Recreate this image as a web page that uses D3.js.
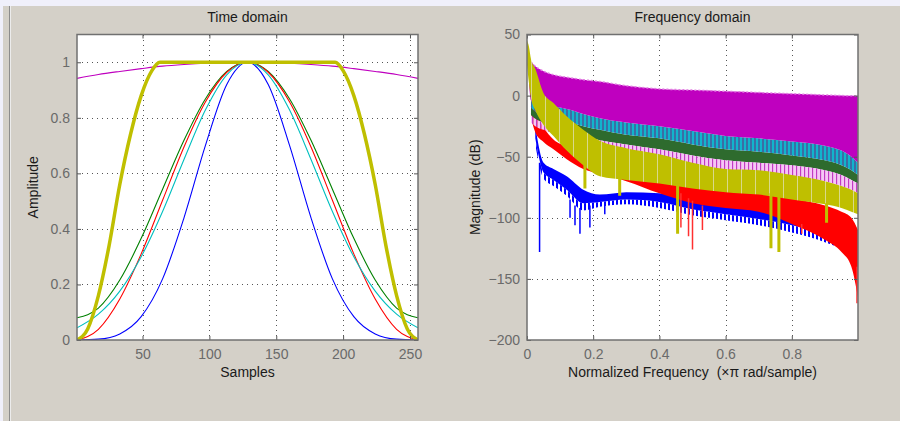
<!DOCTYPE html>
<html>
<head>
<meta charset="utf-8">
<script src="https://cdn.jsdelivr.net/npm/d3@7"></script>
<style>
  html, body { margin: 0; padding: 0; background: #d4d0c8; }
  svg { display: block; }
  text { font-family: "Liberation Sans", Arial, sans-serif; }
</style>
</head>
<body>
<svg id="chart"></svg>
<script>
// ---- time domain (samples 1..256) ----
const timeN = [1, 17, 33, 49, 65, 81, 97, 113, 128.5, 144, 160, 176, 192, 208, 224, 240, 256];
const blueTime = [0.0001, 0.003, 0.022, 0.084, 0.22, 0.44, 0.70, 0.92, 1, 0.92, 0.70, 0.44, 0.22, 0.084, 0.022, 0.003, 0.0001];
const greenTime = [0.08, 0.115, 0.216, 0.366, 0.543, 0.719, 0.868, 0.967, 1, 0.967, 0.868, 0.719, 0.543, 0.366, 0.216, 0.115, 0.08];
const redTime = [0, 0.0385, 0.1475, 0.31, 0.503, 0.695, 0.857, 0.964, 1, 0.964, 0.857, 0.695, 0.503, 0.31, 0.1475, 0.0385, 0];
const cyanTime = [0.044, 0.093, 0.176, 0.30, 0.463, 0.65, 0.828, 0.955, 1, 0.955, 0.828, 0.65, 0.463, 0.30, 0.176, 0.093, 0.044];
const magentaTime = [0.942, 0.956, 0.967, 0.977, 0.986, 0.992, 0.9965, 0.999, 1, 0.999, 0.9965, 0.992, 0.986, 0.977, 0.967, 0.956, 0.942];
const tukeyN = [1, 9, 17, 25, 33, 41, 49, 57, 63, 194, 200, 208, 216, 224, 232, 240, 248, 256];
const yellowTime = [0, 0.04, 0.16, 0.34, 0.56, 0.74, 0.88, 0.97, 1, 1, 0.97, 0.88, 0.74, 0.56, 0.34, 0.16, 0.04, 0];

// ---- frequency domain (dB), envelopes of each response ----
const freqPts =    [0,    0.006, 0.012, 0.025, 0.05, 0.08, 0.12, 0.17, 0.22, 0.3, 0.4, 0.5, 0.6, 0.7, 0.8, 0.9, 0.95, 0.98, 1.0];
const magentaTop = [null, 24,    27,    24,    20,   17,   15,   13,   11.5, 8,   5.5, 4.5, 3.5, 2.5, 1.5, 0.5, 0,    -0.2, -0.3];
const magentaBot = [null, 10,    -4,    -6,    -8,   -9,   -11,  -15,  -18.5, -22, -25, -29, -33, -35, -37.5, -41, -45, -50, -55];
const cyanBot =    [null, null,  -10,   -13,   -16,  -18,  -21,  -25,  -28,  -32, -35, -40, -44, -46, -49, -53, -57,  -61,  -65];
const greenBot =   [null, null,  -16,   -19,   -22,  -25,  -29,  -33,  -36.5, -40, -44, -49, -53, -55, -57, -61, -65, -69, -72];
const pinkBot =    [null, null,  -22,   -25,   -28,  -31,  -35,  -40,  -47,  -50, -54, -59, -62, -64, -67, -70, -74,  -77,  -80];
const yellowTop =  [45,   40,    30,    22,    2,    -6,   -17,  -28,  -37,  -43, -48, -55, -60, -61, -65, -70, -74,  -77,  -80];
const yellowBot =  [25,   10,    -2,    -12,   -24,  -33,  -45,  -57,  -66,  -69, -72, -76, -79, -81, -85, -89, -92,  -95,  -97];
const redTop =     [null, null,  2,     -12,   -26,  -36,  -42,  -50,  -55,  -60, -64, -70, -74, -77, -84, -90, -95,  -100, -110];
const redBot =     [null, null,  -18,   -30,   -38,  -44,  -52,  -60,  -64,  -70, -80, -88, -92, -95, -105, -118, -128, -140, -165];
const blueTop =    [null, null,  null,  -25,   -55,  -60,  -66,  -77,  -81,  -79, -80, -84, -87, -90, -95, -100, -105, -110, -118];
const blueSolid =  [null, null,  null,  -35,   -63,  -69,  -77,  -88,  -87,  -85, -87, -93, -97, -101, -106, -113, -119, -125, -133];
const blueBot =    [null, null,  null,  -40,   -68,  -74,  -82,  -94,  -91,  -89, -92, -98, -102, -106, -112, -120, -126, -133, -142];

const yellowSpikeF = [0.175, 0.28, 0.455, 0.737, 0.761, 0.905];
const yellowSpikeTop = [-55, -68, -72, -80, -80, -88];
const yellowSpikeBot = [-76, -82, -113, -125, -128, -104];
const redSpikeF = [0.465, 0.488, 0.5, 0.53, 0.83, 0.997];
const redSpikeTop = [-80, -84, -86, -90, -105, -140];
const redSpikeBot = [-108, -115, -126, -110, -113, -170];
const blueSpikeF = [0.038, 0.13, 0.145, 0.16, 0.19, 0.235];
const blueSpikeTop = [-55, -85, -90, -92, -90, -88];
const blueSpikeBot = [-128, -100, -106, -113, -108, -97];

// ---- ticks ----
const timeXTicks = [50, 100, 150, 200, 250];
const timeYTicks = [0, 0.2, 0.4, 0.6, 0.8, 1];
const freqXTicks = [0, 0.2, 0.4, 0.6, 0.8];
const freqYTicks = [-200, -150, -100, -50, 0, 50];

const W = 900, H = 421;
const plotTop = 34.5, plotBottom = 340;

const svg = d3.select('#chart').attr('width', W).attr('height', H);

// window chrome
svg.append('rect').attr('width', W).attr('height', H).attr('fill', '#d4d0c8');
svg.append('rect').attr('width', W).attr('height', 6).attr('fill', '#f0f0fb');
svg.append('rect').attr('y', 6).attr('width', 3).attr('height', H - 6).attr('fill', '#f0f0fb');
svg.append('line').attr('x1', 9.5).attr('x2', 9.5).attr('y1', 6).attr('y2', H).attr('stroke', '#8c8c8c');
svg.append('line').attr('x1', 10.5).attr('x2', 10.5).attr('y1', 6).attr('y2', H).attr('stroke', '#ececec');

const defs = svg.append('defs');
function stripes(id, c1, w1, c2, w2) {
  const p = defs.append('pattern').attr('id', id)
      .attr('patternUnits', 'userSpaceOnUse')
      .attr('width', w1 + w2).attr('height', 10);
  p.append('rect').attr('width', w1).attr('height', 10).attr('fill', c1);
  p.append('rect').attr('x', w1).attr('width', w2).attr('height', 10).attr('fill', c2);
}
stripes('pCyan', '#12b4cc', 2, '#3a6ea6', 2);
stripes('pPink', '#c23ac2', 1.5, '#f6c6f6', 2.5);
stripes('pBlue', '#0000ff', 2, '#ffffff', 2);
stripes('pYellow', '#bfbf00', 13, '#d9d98a', 1);

function panel(opt) {
  const x = d3.scaleLinear().domain(opt.xDomain).range([opt.left, opt.right]);
  const y = d3.scaleLinear().domain(opt.yDomain).range([plotBottom, plotTop]);
  const g = svg.append('g');

  g.append('rect')
      .attr('x', opt.left).attr('y', plotTop)
      .attr('width', opt.right - opt.left).attr('height', plotBottom - plotTop)
      .attr('fill', '#fff');

  // dotted grid
  const grid = g.append('g')
      .attr('stroke', '#555').attr('stroke-width', 1)
      .attr('stroke-dasharray', '1,4').attr('shape-rendering', 'crispEdges');
  grid.selectAll('.gx')
      .data(opt.xTicks.filter(d => x(d) > opt.left + 1 && x(d) < opt.right - 1))
    .enter().append('line')
      .attr('x1', d => Math.round(x(d)) + 0.5).attr('x2', d => Math.round(x(d)) + 0.5)
      .attr('y1', plotTop).attr('y2', plotBottom);
  grid.selectAll('.gy')
      .data(opt.yTicks.filter(d => y(d) > plotTop + 1 && y(d) < plotBottom - 1))
    .enter().append('line')
      .attr('y1', d => Math.round(y(d)) + 0.5).attr('y2', d => Math.round(y(d)) + 0.5)
      .attr('x1', opt.left).attr('x2', opt.right);

  const clipId = 'clip' + opt.id;
  defs.append('clipPath').attr('id', clipId)
    .append('rect')
      .attr('x', opt.left).attr('y', plotTop)
      .attr('width', opt.right - opt.left).attr('height', plotBottom - plotTop);
  const plot = g.append('g').attr('clip-path', `url(#${clipId})`);
  opt.draw(plot, x, y);

  // axes, ticks inward on all four sides
  const styleAxis = sel => {
    sel.select('.domain').remove();
    sel.selectAll('.tick line').attr('stroke', '#555');
    sel.selectAll('.tick text')
        .attr('fill', '#6a6a6a')
        .style('font-size', '14px')
        .style('font-family', '"Liberation Sans", Arial, sans-serif');
  };
  g.append('g').attr('transform', `translate(0,${plotBottom})`)
      .call(d3.axisBottom(x).tickValues(opt.xTicks).tickFormat(opt.xFormat).tickSize(-4).tickPadding(9))
      .call(styleAxis);
  g.append('g').attr('transform', `translate(0,${plotTop})`)
      .call(d3.axisTop(x).tickValues(opt.xTicks).tickFormat('').tickSize(-4))
      .call(styleAxis);
  g.append('g').attr('transform', `translate(${opt.left},0)`)
      .call(d3.axisLeft(y).tickValues(opt.yTicks).tickFormat(opt.yFormat).tickSize(-4).tickPadding(7))
      .call(styleAxis);
  g.append('g').attr('transform', `translate(${opt.right},0)`)
      .call(d3.axisRight(y).tickValues(opt.yTicks).tickFormat('').tickSize(-4))
      .call(styleAxis);

  g.append('rect')
      .attr('x', opt.left).attr('y', plotTop)
      .attr('width', opt.right - opt.left).attr('height', plotBottom - plotTop)
      .attr('fill', 'none').attr('stroke', '#707070').attr('stroke-width', 1.5);

  const cx = (opt.left + opt.right) / 2;
  g.append('text').attr('x', cx).attr('y', 22)
      .attr('text-anchor', 'middle').attr('fill', '#1a1a1a').style('font-size', '14px')
      .text(opt.title);
  g.append('text').attr('x', cx).attr('y', 377)
      .attr('text-anchor', 'middle').attr('fill', '#1a1a1a').style('font-size', '14px')
      .style('white-space', 'pre')
      .text(opt.xLabel);
  g.append('text')
      .attr('transform', `translate(${opt.yLabelX},${(plotTop + plotBottom) / 2}) rotate(-90)`)
      .attr('text-anchor', 'middle').attr('fill', '#1a1a1a').style('font-size', '14px')
      .text(opt.yLabel);
}

// Time domain
panel({
  id: 'time', left: 77, right: 418,
  xDomain: [1, 256], yDomain: [0, 1.1],
  xTicks: timeXTicks, yTicks: timeYTicks,
  xFormat: d3.format('d'), yFormat: d => d === 0 || d === 1 ? String(d) : d.toFixed(1),
  title: 'Time domain', xLabel: 'Samples', yLabel: 'Amplitude', yLabelX: 38,
  draw(plot, x, y) {
    const line = d3.line().x(d => x(d[0])).y(d => y(d[1])).curve(d3.curveMonotoneX);
    const series = [
      { n: timeN, v: blueTime, color: '#0000ff', w: 1.1 },
      { n: timeN, v: greenTime, color: '#008000', w: 1.1 },
      { n: timeN, v: redTime, color: '#ff0000', w: 1.1 },
      { n: timeN, v: cyanTime, color: '#00bfbf', w: 1.1 },
      { n: timeN, v: magentaTime, color: '#bf00bf', w: 1.1 },
      { n: tukeyN, v: yellowTime, color: '#bfbf00', w: 3.5 }
    ];
    plot.selectAll('.win')
        .data(series)
      .enter().append('path')
        .attr('fill', 'none')
        .attr('stroke', d => d.color)
        .attr('stroke-width', d => d.w)
        .attr('stroke-linejoin', 'round')
        .attr('d', d => line(d.n.map((n, i) => [n, d.v[i]])));
  }
});

// Frequency domain
panel({
  id: 'freq', left: 527, right: 858,
  xDomain: [0, 1], yDomain: [-200, 50],
  xTicks: freqXTicks, yTicks: freqYTicks,
  xFormat: d => d === 0 ? '0' : d.toFixed(1), yFormat: d3.format('d'),
  title: 'Frequency domain', xLabel: 'Normalized Frequency  (\u00d7\u03c0 rad/sample)',
  yLabel: 'Magnitude (dB)', yLabelX: 480,
  draw(plot, x, y) {
    const band = (hi, lo, fill) => {
      const rows = freqPts.map((f, i) => ({ f, hi: hi[i], lo: lo[i] }));
      const area = d3.area()
          .defined(d => d.hi != null && d.lo != null)
          .x(d => x(d.f)).y0(d => y(d.lo)).y1(d => y(d.hi))
          .curve(d3.curveMonotoneX);
      plot.append('path').attr('fill', fill).attr('d', area(rows));
    };
    const edge = (vals, color, w, dash) => {
      const rows = freqPts.map((f, i) => ({ f, v: vals[i] }));
      const line = d3.line().defined(d => d.v != null)
          .x(d => x(d.f)).y(d => y(d.v)).curve(d3.curveMonotoneX);
      plot.append('path').attr('fill', 'none')
          .attr('stroke', color).attr('stroke-width', w)
          .attr('stroke-dasharray', dash).attr('d', line(rows));
    };
    const spikes = (fs, hi, lo, color, w) => {
      plot.selectAll(null)
          .data(fs.map((f, i) => ({ f, hi: hi[i], lo: lo[i] })))
        .enter().append('line')
          .attr('x1', d => x(d.f)).attr('x2', d => x(d.f))
          .attr('y1', d => y(d.hi)).attr('y2', d => y(d.lo))
          .attr('stroke', color).attr('stroke-width', w);
    };

    band(blueSolid, blueBot, 'url(#pBlue)');
    band(blueTop, blueSolid, '#0000ff');
    spikes(blueSpikeF, blueSpikeTop, blueSpikeBot, '#0000ff', 1.5);
    band(redTop, redBot, '#ff0000');
    spikes(redSpikeF, redSpikeTop, redSpikeBot, '#ff3030', 1.5);
    band(cyanBot, greenBot, '#2e6b2e');
    band(magentaBot, cyanBot, 'url(#pCyan)');
    band(greenBot, pinkBot, 'url(#pPink)');
    band(magentaTop, magentaBot, '#bf00bf');
    edge(magentaTop, '#e27ee2', 1.5, '2,2');
    band(yellowTop, yellowBot, 'url(#pYellow)');
    spikes(yellowSpikeF, yellowSpikeTop, yellowSpikeBot, '#bfbf00', 3);
  }
});
</script>
</body>
</html>
